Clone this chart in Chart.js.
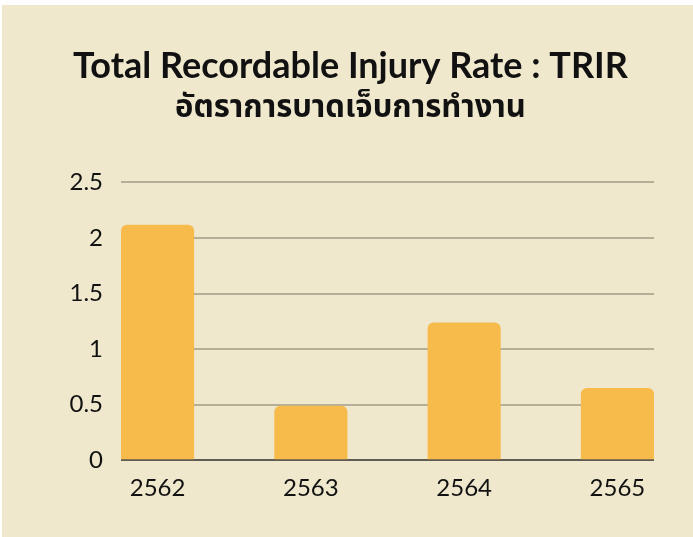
<!DOCTYPE html>
<html>
<head>
<meta charset="utf-8">
<script src="https://cdn.jsdelivr.net/npm/chart.js@4"></script>
<style>
  body { margin: 0; background: #fff; }
  #box {
    position: absolute;
    left: 2px;
    top: 5px;
    width: 691px;
    height: 532px;
    background: #EFE8CD;
  }
  canvas { display: block; }
</style>
</head>
<body>
<div id="box"><canvas id="chart" width="691" height="532"></canvas></div>
<script>
// data
const years = ['2562', '2563', '2564', '2565'];
const trir = [2.12, 0.49, 1.24, 0.65];
const yTicks = [0, 0.5, 1, 1.5, 2, 2.5];

const titleText = 'Total Recordable Injury Rate : TRIR';
const subtitleText = 'อัตราการบาดเจ็บการทำงาน';

const FONT = "Lato, 'Noto Sans Thai', 'Noto Sans', sans-serif";

const ctx = document.getElementById('chart').getContext('2d');
new Chart(ctx, {
  type: 'bar',
  data: {
    datasets: [{
      data: trir.map((v, i) => ({ x: i, y: v })),
      backgroundColor: '#F6BB4A',
      borderRadius: { topLeft: 6, topRight: 6 },
      borderSkipped: 'bottom',
      barPercentage: 0.477,
      categoryPercentage: 1
    }]
  },
  options: {
    responsive: false,
    animation: false,
    layout: { padding: { left: 6, right: 0, top: 0, bottom: 28 } },
    plugins: {
      legend: { display: false },
      tooltip: { enabled: false },
      title: {
        display: true,
        text: titleText,
        color: '#111',
        font: { family: FONT, size: 36, weight: 'bold' },
        padding: { top: 40, bottom: 0 }
      },
      subtitle: {
        display: true,
        text: subtitleText,
        color: '#111',
        font: { family: FONT, size: 31, weight: 'bold' },
        padding: { top: 0, bottom: 57 }
      }
    },
    scales: {
      x: {
        type: 'linear',
        offset: false,
        min: -0.2386,
        max: 3.2386,
        afterBuildTicks: (s) => { s.ticks = years.map((_, i) => ({ value: i })); },
        ticks: {
          callback: (v) => years[v],
          color: '#111',
          font: { family: FONT, size: 24 },
          padding: 6
        },
        grid: { display: false },
        border: { display: false }
      },
      y: {
        min: 0,
        max: 2.5,
        afterBuildTicks: (s) => { s.ticks = yTicks.map(v => ({ value: v })); },
        afterFit: (s) => { s.width = 113; },
        ticks: {
          callback: (v) => String(v),
          color: '#111',
          font: { family: FONT, size: 24 },
          padding: 18
        },
        grid: {
          drawTicks: false,
          lineWidth: 2,
          color: (c) => c.tick && c.tick.value === 0 ? '#5E5B50' : '#B5AE98'
        },
        border: { display: false }
      },
      // empty right-hand axis, only to keep the plot off the right edge
      yRight: {
        position: 'right',
        min: 0,
        max: 2.5,
        afterFit: (s) => { s.width = 39; },
        ticks: { display: false },
        grid: { display: false },
        border: { display: false }
      }
    }
  }
});
</script>
</body>
</html>
